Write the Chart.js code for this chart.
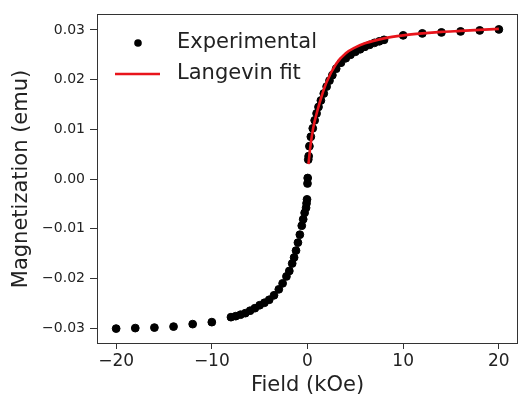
<!DOCTYPE html>
<html>
<head>
<meta charset="utf-8">
<script src="https://cdn.jsdelivr.net/npm/chart.js@4/dist/chart.umd.min.js"></script>
<style>
  html, body { margin: 0; padding: 0; background: #fff; }
  #wrap { width: 519px; height: 399px; }
</style>
</head>
<body>
<div id="wrap"><canvas id="magChart" width="519" height="399"></canvas></div>
<script>
// ===== DATA =====
// Experimental points: field (kOe) and magnetization (emu)
const expField = [
    -20, -18, -16, -14, -12, -10,
    -8.0, -7.5, -7.0, -6.5, -6.0, -5.5, -5.0, -4.5, -4.0, -3.5, -3.0, -2.6, -2.2, -1.9,
    -1.6, -1.4, -1.2, -1.0, -0.8, -0.6, -0.45, -0.3, -0.15, -0.1, -0.05,
    0, 0.02, 0.08, 0.12, 0.2, 0.35, 0.55, 0.75, 0.95, 1.15, 1.4, 1.7, 2.0, 2.3, 2.6,
    3.0, 3.5, 4.0, 4.5, 5.0, 5.5, 6.0, 6.5, 7.0, 7.5, 8.0,
    10, 12, 14, 16, 18, 20
];
const expMag = [
    -0.0301, -0.0300, -0.0299, -0.0297, -0.0292, -0.0288,
    -0.0278, -0.0276, -0.0273, -0.0270, -0.0265, -0.0260, -0.0254, -0.0249, -0.0243, -0.0234, -0.0222, -0.0210, -0.0196, -0.0185,
    -0.0170, -0.0158, -0.0144, -0.0128, -0.0112, -0.0094, -0.0081, -0.0068, -0.0058, -0.0049, -0.0041,
    -0.0009, 0.0002, 0.0039, 0.0046, 0.0066, 0.0085, 0.0102, 0.0118, 0.0132, 0.0145, 0.0158, 0.0172, 0.0186, 0.0198, 0.0209,
    0.0222, 0.0234, 0.0243, 0.0250, 0.0256, 0.0261, 0.0266, 0.0270, 0.0274, 0.0277, 0.0280,
    0.0289, 0.0293, 0.0295, 0.0297, 0.0299, 0.0301
];

// Langevin fit curve (positive field only)
const fitField = [0.1, 0.3, 0.6, 1.0, 1.5, 2.0, 3.0, 4.0, 5.0, 6.0, 8.0, 10, 12, 14, 16, 18, 20];
const fitMag = [0.0030, 0.0065, 0.0103, 0.0135, 0.0168, 0.0195, 0.0232, 0.0253, 0.0265, 0.0273, 0.0283, 0.0289, 0.0293, 0.0296, 0.0298, 0.0300, 0.0302];

// Tick labels
const xTicks = [-20, -10, 0, 10, 20];
const yTicks = [-0.03, -0.02, -0.01, 0.00, 0.01, 0.02, 0.03];

const legendLabels = ['Experimental', 'Langevin fit'];

// ===== HELPERS =====
function toPoints(xs, ys) {
    return xs.map((x, i) => ({ x: x, y: ys[i] }));
}

function formatTick(v) {
    const s = Math.abs(v).toFixed(2);
    return (v < -1e-9 ? '\u2212' : '') + s;
}

// Box around the plot area + legend inside upper left
const frameAndLegend = {
    id: 'frameAndLegend',
    afterDatasetsDraw(chart) {
        const ctx = chart.ctx;
        const a = chart.chartArea;
        ctx.save();
        ctx.strokeStyle = '#333';
        ctx.lineWidth = 1;
        ctx.strokeRect(a.left + 0.5, a.top + 0.5, a.right - a.left - 1, a.bottom - a.top - 1);

        // legend
        const lx = a.left + 41;
        const y1 = a.top + 29;
        const y2 = a.top + 60;
        ctx.fillStyle = '#000';
        ctx.beginPath();
        ctx.arc(lx, y1, 3.8, 0, Math.PI * 2);
        ctx.fill();

        ctx.strokeStyle = '#e8141b';
        ctx.lineWidth = 2.7;
        ctx.beginPath();
        ctx.moveTo(lx - 23, y2);
        ctx.lineTo(lx + 22, y2);
        ctx.stroke();

        ctx.fillStyle = '#222';
        ctx.font = '21px "DejaVu Sans"';
        ctx.textBaseline = 'middle';
        ctx.fillText(legendLabels[0], a.left + 80, y1);
        ctx.fillText(legendLabels[1], a.left + 80, y2);
        ctx.restore();
    }
};

// ===== CHART =====
Chart.defaults.font.family = '"DejaVu Sans", sans-serif';
Chart.defaults.color = '#222';

new Chart(document.getElementById('magChart'), {
    type: 'scatter',
    data: {
        datasets: [
            {
                label: legendLabels[0],
                data: toPoints(expField, expMag),
                backgroundColor: '#000',
                borderColor: '#000',
                pointRadius: 3.9,
                pointHoverRadius: 3.9,
                order: 2
            },
            {
                label: legendLabels[1],
                type: 'line',
                data: toPoints(fitField, fitMag),
                borderColor: '#e8141b',
                borderWidth: 2.6,
                pointRadius: 0,
                tension: 0.4,
                cubicInterpolationMode: 'monotone',
                fill: false,
                order: 1
            }
        ]
    },
    plugins: [frameAndLegend],
    options: {
        responsive: false,
        animation: false,
        layout: { autoPadding: false, padding: { left: 0, top: 14, right: 1, bottom: 0 } },
        plugins: {
            legend: { display: false },
            tooltip: { enabled: false }
        },
        scales: {
            x: {
                type: 'linear',
                min: -22,
                max: 22,
                afterBuildTicks: (scale) => { scale.ticks = xTicks.map(v => ({ value: v })); },
                afterFit: (scale) => {
                    scale.height = 55;
                    scale.paddingLeft = 0;
                    scale.paddingRight = 0;
                },
                grid: { drawOnChartArea: false, drawTicks: true, tickLength: 5, color: '#333' },
                border: { display: false },
                ticks: {
                    padding: 2,
                    font: { size: 17 },
                    color: '#222',
                    callback: (v) => (v < 0 ? '\u2212' + Math.abs(v) : String(v))
                },
                title: {
                    display: true,
                    text: 'Field (kOe)',
                    font: { size: 21 },
                    color: '#222',
                    padding: { top: 0, bottom: 1 }
                }
            },
            y: {
                type: 'linear',
                min: -0.0332,
                max: 0.0332,
                afterBuildTicks: (scale) => { scale.ticks = yTicks.map(v => ({ value: v })); },
                afterFit: (scale) => {
                    scale.width = 97;
                    scale.paddingTop = 0;
                    scale.paddingBottom = 0;
                },
                grid: { drawOnChartArea: false, drawTicks: true, tickLength: 7, color: '#333' },
                border: { display: false },
                ticks: {
                    padding: 5,
                    font: { size: 14 },
                    color: '#222',
                    callback: (v) => formatTick(v)
                },
                title: {
                    display: true,
                    text: 'Magnetization (emu)',
                    font: { size: 21 },
                    color: '#222',
                    padding: { top: 9, bottom: 0 }
                }
            }
        }
    }
});
</script>
</body>
</html>
